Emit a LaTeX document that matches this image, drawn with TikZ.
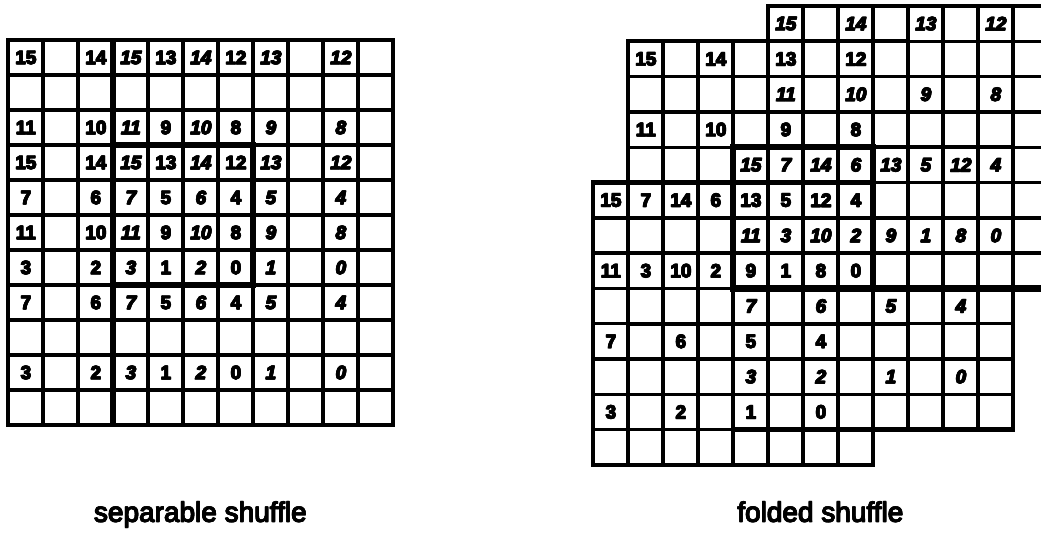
\documentclass[tikz,border=0pt]{standalone}
\usepackage{fontspec}
\newfontfamily\numfont{Liberation Sans}[BoldFeatures={FakeBold=2},BoldItalicFeatures={FakeBold=2}]
\newfontfamily\capfont{Liberation Sans}[FakeBold=1.4]
\newcommand\heavytext[2]{\rlap{\kern#1#2}\rlap{\raisebox{#1}{#2}}\rlap{\raisebox{#1}{\kern#1#2}}#2}
\begin{document}
\begin{tikzpicture}[x=1pt,y=-1pt,
  gl/.style={line width=3.4pt},
  fr/.style={line width=4.4pt},
  tk/.style={line width=6.5pt},
  nup/.style={font=\numfont\bfseries\fontsize{19pt}{19pt}\selectfont, inner sep=0pt},
  nit/.style={font=\numfont\bfseries\itshape\fontsize{19pt}{19pt}\selectfont, inner sep=0pt},
  captext/.style={font=\capfont\fontsize{28pt}{28pt}\selectfont, anchor=base, inner sep=0pt}]
\useasboundingbox (0,0) rectangle (1041,535);
\clip (0,0) rectangle (1041,535);
% ---------------- left: separable shuffle ----------------
\begin{scope}[shift={(8,40)}, x=35pt, y=-35pt]
  \foreach \k in {0,...,11} {
    \draw[gl] (\k,0) -- (\k,11);
    \draw[gl] (0,\k) -- (11,\k);
  }
  \draw[fr] (0,0) rectangle (11,11);
  \draw[tk] (3,0) -- (3,11);
  \draw[tk] (3,3) rectangle (7,7);
  \foreach \r/\q in {0/3,2/2,3/3,4/1,5/2,6/0,7/1,9/0} {
    \foreach \c/\p in {0/3,2/2,4/1,6/0} {
      \pgfmathtruncatemacro\v{4*\q+\p}
      \node[nup] (L-\r-\c) at (\c+0.5,\r+0.5) {\heavytext{0.7pt}{\v}};
    }
    \foreach \c/\p in {3/3,5/2,7/1,9/0} {
      \pgfmathtruncatemacro\v{4*\q+\p}
      \node[nit] (L-\r-\c) at (\c+0.5,\r+0.5) {\heavytext{0.7pt}{\v}};
    }
  }
\end{scope}
% ---------------- right: folded shuffle ----------------
\begin{scope}[shift={(593,6)}, x=35pt, y=-35.3pt]
  \foreach \gc/\gr in {0/5,1/1,5/0,4/4} {
    \foreach \k in {0,...,8} {
      \draw[gl] (\gc+\k,\gr) -- (\gc+\k,\gr+8);
      \draw[gl] (\gc,\gr+\k) -- (\gc+8,\gr+\k);
    }
    \draw[fr] (\gc,\gr) rectangle (\gc+8,\gr+8);
  }
  \draw[tk] (4,4) rectangle (8,8);
  \draw[tk] (8,8) -- (13,8);
  \foreach \gc/\gr/\nm in {0/5/F,1/1/M} {
    \foreach \i in {0,...,3} {
      \foreach \j in {0,...,3} {
        \pgfmathtruncatemacro\v{15-\i-4*\j}
        \node[nup] (\nm-\i-\j) at (\gc+2*\i+0.5,\gr+2*\j+0.5) {\heavytext{0.7pt}{\v}};
      }
    }
  }
  \foreach \gc/\gr/\nm in {5/0/T,4/4/Q} {
    \foreach \i in {0,...,3} {
      \foreach \j in {0,...,3} {
        \pgfmathtruncatemacro\v{15-\i-4*\j}
        \node[nit] (\nm-\i-\j) at (\gc+2*\i+0.5,\gr+2*\j+0.5) {\heavytext{0.7pt}{\v}};
      }
    }
  }
\end{scope}
% ---------------- captions ----------------
\node[captext] (capL) at (200,522) {\heavytext{0.6pt}{separable shuffle}};
\node[captext] (capR) at (820,522) {\heavytext{0.6pt}{folded shuffle}};
\end{tikzpicture}
\end{document}
